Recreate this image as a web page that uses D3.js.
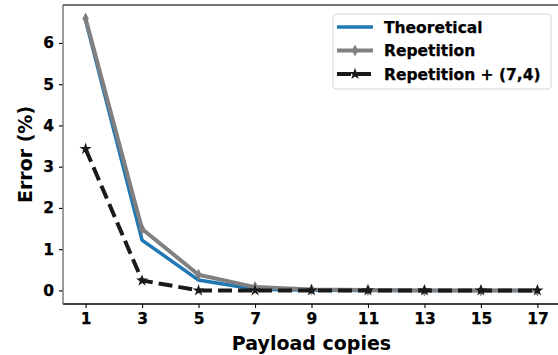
<!DOCTYPE html>
<html>
<head>
<meta charset="utf-8">
<script src="https://cdn.jsdelivr.net/npm/d3@7"></script>
<style>
  body { margin: 0; background: #fff; }
  text { font-family: 'DejaVu Sans', sans-serif; font-weight: bold; }
</style>
</head>
<body>
<script>
// data
var copies = [1, 3, 5, 7, 9, 11, 13, 15, 17];
var theoretical = [6.55, 1.22, 0.25, 0.03, 0.005, 0, 0, 0, 0];
var repetition = [6.59, 1.49, 0.38, 0.08, 0.02, 0.01, 0, 0, 0];
var repHamming = [3.43, 0.24, 0, 0, 0, 0, 0, 0, 0];
var yTicks = [0, 1, 2, 3, 4, 5, 6];
var seriesNames = ['Theoretical', 'Repetition', 'Repetition + (7,4)'];

var W = 558, H = 355;
var margin = { top: 5, right: 0, bottom: 51, left: 63 };
var width = 497, height = H - margin.top - margin.bottom;

var svg = d3.select('body').append('svg')
	.attr('width', W).attr('height', H);
var g = svg.append('g')
	.attr('transform', 'translate(' + margin.left + ',' + margin.top + ')');

// scales with matplotlib-like 5% padding
var xmin = d3.min(copies), xmax = d3.max(copies);
var xpad = (xmax - xmin) * 0.05;
var x = d3.scaleLinear().domain([xmin - xpad, xmax + xpad]).range([0, width]);
var allY = theoretical.concat(repetition, repHamming);
var ymin = d3.min(allY), ymax = d3.max(allY);
var ypad = (ymax - ymin) * 0.05;
var y = d3.scaleLinear().domain([ymin - ypad, ymax + ypad]).range([height, 0]);

// axes
var xAxis = d3.axisBottom(x).tickValues(copies).tickSize(4).tickPadding(5);
var yAxis = d3.axisLeft(y).tickValues(yTicks).tickSize(4).tickPadding(5);

var gx = g.append('g').attr('transform', 'translate(0,' + height + ')').call(xAxis);
var gy = g.append('g').call(yAxis);
[gx, gy].forEach(function (a) {
	a.selectAll('text').style('font-size', '15.5px').attr('fill', '#000')
		.attr('stroke', '#000').attr('stroke-width', 0.25);
	a.selectAll('line').attr('stroke', '#000').attr('stroke-width', 1.1);
	a.select('.domain').remove();
});

// spines
g.append('line').attr('x1', 0).attr('x2', width).attr('y1', height).attr('y2', height)
	.attr('stroke', '#000').attr('stroke-width', 1.3);
g.append('line').attr('x1', 0).attr('x2', width).attr('y1', 0).attr('y2', 0)
	.attr('stroke', '#444').attr('stroke-width', 1.3);
g.append('line').attr('x1', 0).attr('x2', 0).attr('y1', 0).attr('y2', height)
	.attr('stroke', '#666').attr('stroke-width', 1.3);

// axis labels
svg.append('text')
	.attr('x', margin.left + x((xmin + xmax) / 2)).attr('y', 350)
	.attr('text-anchor', 'middle').style('font-size', '19px')
	.text('Payload copies');
svg.append('text')
	.attr('transform', 'translate(32,' + (margin.top + height / 2) + ') rotate(-90)')
	.attr('text-anchor', 'middle').style('font-size', '19px')
	.text('Error (%)');

// lines
var line = d3.line()
	.x(function (d) { return x(d[0]); })
	.y(function (d) { return y(d[1]); });

var blue = '#1f77b4', gray = '#808080', dark = '#1a1a1a';
var diamond = 'M0,-6L3.2,0L0,6L-3.2,0Z';
var star = d3.symbol().type(d3.symbolStar).size(45)();

g.append('path')
	.datum(d3.zip(copies, theoretical))
	.attr('d', line).attr('fill', 'none')
	.attr('stroke', blue).attr('stroke-width', 3.5);

g.append('path')
	.datum(d3.zip(copies, repetition))
	.attr('d', line).attr('fill', 'none')
	.attr('stroke', gray).attr('stroke-width', 4).attr('stroke-linejoin', 'round');
g.selectAll('.rep-mark')
	.data(d3.zip(copies, repetition)).enter()
	.append('path')
	.attr('class', 'rep-mark')
	.attr('d', diamond)
	.attr('transform', function (d) { return 'translate(' + x(d[0]) + ',' + y(d[1]) + ')'; })
	.attr('fill', gray);

g.append('path')
	.datum(d3.zip(copies, repHamming))
	.attr('d', line).attr('fill', 'none')
	.attr('stroke', dark).attr('stroke-width', 4)
	.attr('stroke-dasharray', '14,6');
g.selectAll('.ham-mark')
	.data(d3.zip(copies, repHamming)).enter()
	.append('path')
	.attr('class', 'ham-mark')
	.attr('d', star)
	.attr('transform', function (d) { return 'translate(' + x(d[0]) + ',' + y(d[1]) + ')'; })
	.attr('fill', dark);

// legend
var lg = svg.append('g').attr('transform', 'translate(333,14)');
lg.append('rect')
	.attr('x', 0).attr('y', 0).attr('width', 218).attr('height', 75)
	.attr('rx', 3).attr('fill', '#fff').attr('fill-opacity', 0.8)
	.attr('stroke', '#d6d6d6').attr('stroke-width', 1);

var rows = [
	{ name: seriesNames[0], color: blue, w: 3.5, dash: null, mark: null },
	{ name: seriesNames[1], color: gray, w: 4, dash: null, mark: diamond },
	{ name: seriesNames[2], color: dark, w: 4, dash: '14,6', mark: star }
];
rows.forEach(function (r, i) {
	var yy = 13 + i * 23.5;
	lg.append('line')
		.attr('x1', 4).attr('x2', 40).attr('y1', yy).attr('y2', yy)
		.attr('stroke', r.color).attr('stroke-width', r.w)
		.attr('stroke-dasharray', r.dash);
	if (r.mark) {
		lg.append('path').attr('d', r.mark)
			.attr('transform', 'translate(22,' + yy + ')')
			.attr('fill', r.color);
	}
	lg.append('text')
		.attr('x', 51).attr('y', yy + 5.5)
		.style('font-size', '15.5px')
		.attr('stroke', '#000').attr('stroke-width', 0.25)
		.text(r.name);
});
</script>
</body>
</html>
